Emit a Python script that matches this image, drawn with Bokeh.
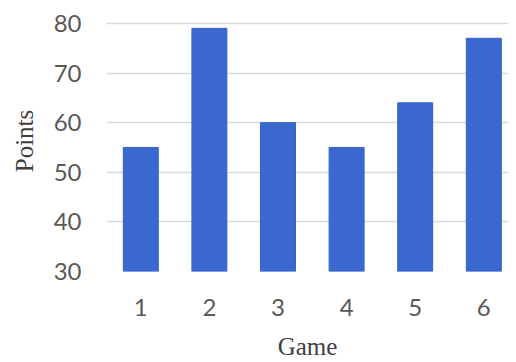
from bokeh.plotting import figure
from bokeh.models import Range1d, FixedTicker, ColumnDataSource
from bokeh.embed import file_html
from bokeh.resources import INLINE

games = [1, 2, 3, 4, 5, 6]
points = [55, 79, 60, 55, 64, 77]
y_ticks = [30, 40, 50, 60, 70, 80]
x_title = "Game"
y_title = "Points"

src = ColumnDataSource(dict(x=games, top=points))

p = figure(width=508, height=362, output_backend="svg", toolbar_location=None,
           x_range=Range1d(0.5, 6.36), y_range=Range1d(30, 82.6),
           min_border_left=106, min_border_right=0, min_border_top=10, min_border_bottom=91)
p.outline_line_color = None
p.background_fill_color = "white"

p.vbar(x="x", top="top", bottom=30, width=0.51, source=src,
       fill_color="#3a68cf", line_color="#3563c8", line_width=1)

p.xaxis.ticker = FixedTicker(ticks=games)
p.yaxis.ticker = FixedTicker(ticks=y_ticks)
for ax in (p.xaxis[0], p.yaxis[0]):
    ax.axis_line_color = None
    ax.major_tick_line_color = None
    ax.minor_tick_line_color = None
    ax.major_label_text_font = "Lato"
    ax.major_label_text_font_size = "24px"
    ax.major_label_text_color = "#595959"
    ax.axis_label_text_font = "Liberation Serif"
    ax.axis_label_text_font_size = "25px"
    ax.axis_label_text_font_style = "normal"
    ax.axis_label_text_color = "#404040"

p.xaxis.axis_label = x_title
p.yaxis.axis_label = y_title
p.xaxis.major_label_standoff = 21
p.xaxis.axis_label_standoff = 14
p.yaxis.major_label_standoff = 19
p.yaxis.axis_label_standoff = 13

p.xgrid.grid_line_color = None
p.ygrid.grid_line_color = "#d9d9d9"
p.ygrid.grid_line_width = 1.5

open("out.html", "w").write(file_html(p, INLINE))
